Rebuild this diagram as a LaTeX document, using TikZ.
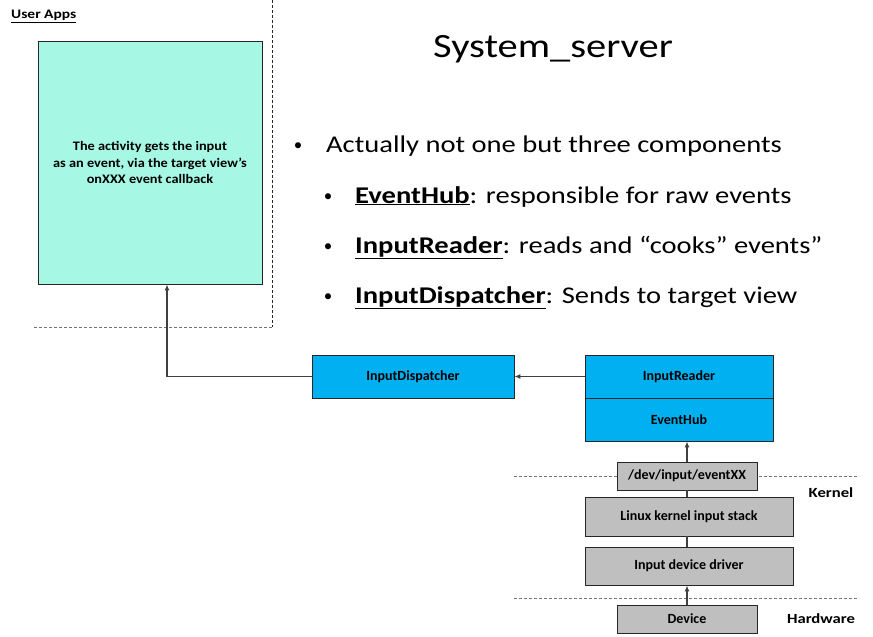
\documentclass[tikz,border=0pt]{standalone}
\usepackage{fontspec}
\setmainfont{Carlito}
\newfontfamily\widefont[FakeStretch=1.19]{Carlito}
\newfontfamily\midfont[FakeStretch=1.1]{Carlito}
\usetikzlibrary{arrows.meta}
\definecolor{appgreen}{HTML}{A6F8E4}
\definecolor{svcblue}{HTML}{00B0F0}
\definecolor{kgrey}{HTML}{BFBFBF}
\definecolor{edgecol}{HTML}{404040}
\begin{document}
\begin{tikzpicture}[x=1pt,y=-1pt,
 box/.style={draw=black!85, line width=0.9pt, inner sep=0pt, font=\fontsize{14}{16}\selectfont\bfseries, align=center},
 bluebox/.style={box, fill=svcblue},
 greybox/.style={box, fill=kgrey},
 conn/.style={draw=edgecol, line width=1.1pt},
 arr/.style={conn, -{Latex[length=6pt,width=5pt]}},
 sepline/.style={line width=0.9pt, dash pattern=on 3pt off 2pt},
 bul/.style={anchor=base west, inner sep=0pt, font=\widefont\fontsize{24}{28}\selectfont},
 dot/.style={anchor=base, inner sep=0pt, font=\fontsize{17}{20}\selectfont},
 lbl/.style={anchor=base, inner sep=0pt, font=\widefont\fontsize{14}{16}\selectfont\bfseries},
]
\useasboundingbox (0,0) rectangle (873,637);
% separators
\draw[sepline, draw=black!85] (272,0) -- (272,327);
\draw[sepline, draw=black!55] (272,327) -- (33,327);
\draw[sepline, draw=black!55] (514,476) -- (857,476);
\draw[sepline, draw=black!55] (514,598) -- (857,598);
% titles
\node[anchor=base west, inner sep=0pt, font=\widefont\fontsize{13}{15}\selectfont\bfseries] (userapps) at (11,18.5) {\underline{User Apps}};
\node[anchor=base, inner sep=0pt, font=\widefont\fontsize{34}{40}\selectfont] (title) at (553,57) {System\_server};
% bullets
\node[dot] (b1) at (298,150) {\textbullet};
\node[bul] (t1) at (326,152) {Actually not one but three components};
\node[dot] (b2) at (328,201) {\textbullet};
\node[bul] (t2) at (355,203) {\underline{\textbf{EventHub}}: responsible for raw events};
\node[dot] (b3) at (328,251) {\textbullet};
\node[bul] (t3) at (355,253) {\underline{\textbf{InputReader}}: reads and “cooks” events”};
\node[dot] (b4) at (328,301) {\textbullet};
\node[bul] (t4) at (355,303) {\underline{\textbf{InputDispatcher}}: Sends to target view};
% boxes
\node[box, fill=appgreen, minimum width=224pt, minimum height=243pt, font=\midfont\fontsize{13}{16.5}\selectfont\bfseries] (app) at (150,162.5) {The activity gets the input\\as an event, via the target view’s\\onXXX event callback};
\node[bluebox, minimum width=202pt, minimum height=43pt] (disp) at (413,376.5) {InputDispatcher};
\node[bluebox, minimum width=188pt, minimum height=43pt] (reader) at (679,376.5) {InputReader};
\node[bluebox, minimum width=188pt, minimum height=43pt] (hub) at (679,419.5) {EventHub};
\node[greybox, minimum width=140pt, minimum height=28pt] (dev) at (687,476) {/dev/input/eventXX};
\node[greybox, minimum width=208pt, minimum height=39pt] (linux) at (689,516.5) {Linux kernel input stack};
\node[greybox, minimum width=208pt, minimum height=38pt] (driver) at (689,566) {Input device driver};
\node[greybox, minimum width=140pt, minimum height=28pt] (device) at (687,619) {Device};
\node[lbl] (kernel) at (831,497) {Kernel};
\node[lbl] (hw) at (821,623.5) {Hardware};
% connectors
\draw[arr] (disp.west) -| ([xshift=17pt]app.south);
\draw[arr] (reader.west) -- (disp.east);
\draw[arr] (dev.north) -- (dev.north |- hub.south);
\draw[conn] (dev.south) -- (dev.south |- linux.north);
\draw[conn] (dev.south |- linux.south) -- (dev.south |- driver.north);
\draw[arr] (device.north) -- (device.north |- driver.south);
\end{tikzpicture}
\end{document}
